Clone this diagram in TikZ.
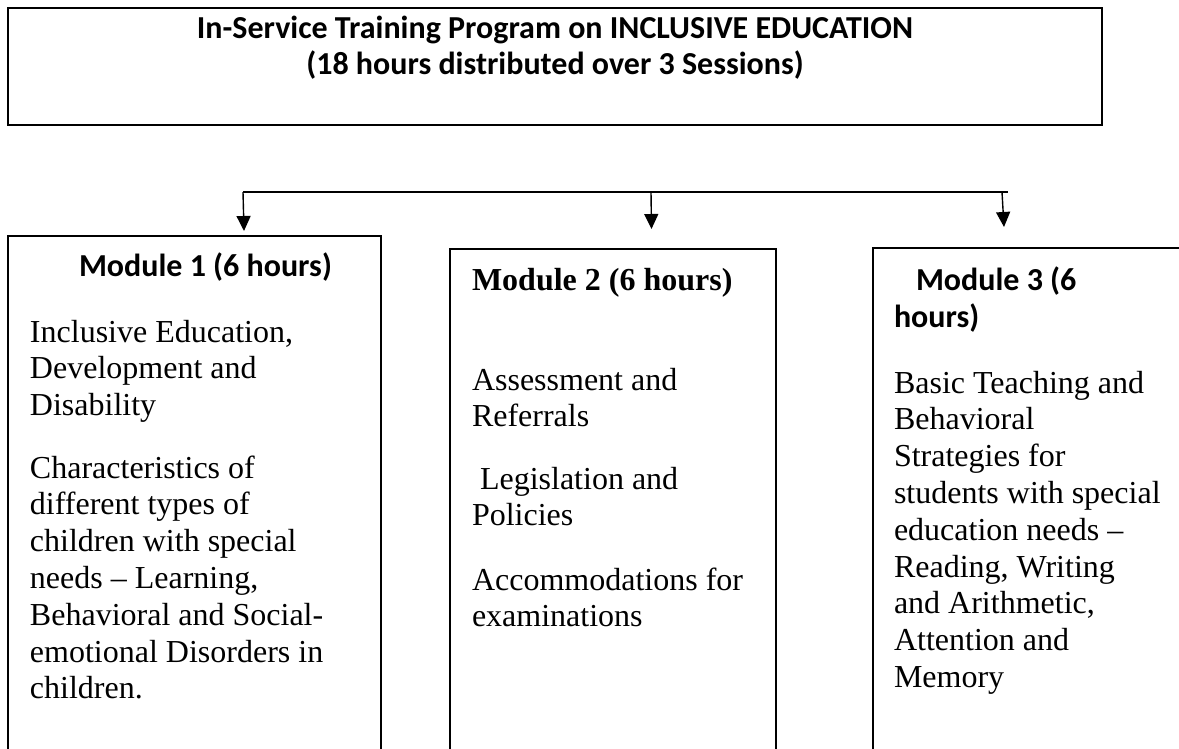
\documentclass[tikz,border=0pt]{standalone}
\usepackage{fontspec}
\setmainfont{Liberation Serif}
\newfontfamily\calibri{Carlito}
\usetikzlibrary{arrows.meta}

\begin{document}
\begin{tikzpicture}[x=1pt, y=-1pt,
  every node/.style={inner sep=0pt, outer sep=0pt},
  bodytext/.style={anchor=base west, align=left, font=\fontsize{32}{36.8}\selectfont},
  headtext/.style={anchor=base west, align=left, font=\calibri\bfseries\fontsize{32}{37}\selectfont},
  modbox/.style={draw, line width=1.6pt, anchor=north west, minimum height=540pt},
  down/.style={-{Triangle[length=15pt, width=14pt]}, line width=1.4pt}]
  \clip (0,0) rectangle (1179,749);
  % Program box (text nodes sit on the baseline of their last line)
  \node[draw, line width=2.6pt, minimum width=1094pt, minimum height=117pt] (prog) at (555,66.5) {};
  \node[anchor=base, align=center, font=\calibri\bfseries\fontsize{32}{36}\selectfont] (progtitle) at (555,75)
    {In-Service Training Program on INCLUSIVE EDUCATION\\(18 hours distributed over 3 Sessions)};
  % Branch line and arrows
  \coordinate (j1) at (243,192);
  \coordinate (j2) at (651,192);
  \coordinate (j3) at (1002,192);
  \coordinate (jend) at (1008,192);
  \draw[line width=2pt] (j1) -- (jend);
  \coordinate (t1) at (244,231);
  \coordinate (t2) at (651.5,229);
  \coordinate (t3) at (1004,227);
  \foreach \i in {1,2,3} {
    \draw[down] (j\i) -- (t\i);
  }
  % Module boxes
  \node[modbox, line width=2.2pt, minimum width=373pt] (mod1) at (8,236) {};
  \node[modbox, minimum width=326pt] (mod2) at (450,249) {};
  \node[modbox, minimum width=340pt] (mod3) at (873,248) {};
  % Module 1
  \node[headtext] (mod1head) at (79,276) {Module 1 (6 hours)};
  \node[bodytext] (mod1a) at (30,415.6) {Inclusive Education,\\Development and\\Disability};
  \node[bodytext] (mod1b) at (30,698.8) {Characteristics of\\different types of\\children with special\\needs -- Learning,\\Behavioral and Social-\\emotional Disorders in\\children.};
  % Module 2
  \node[bodytext, font=\bfseries\fontsize{32}{36.8}\selectfont] (mod2head) at (472,290) {Module 2 (6 hours)};
  \node[bodytext] (mod2a) at (472,426.8) {Assessment and\\Referrals};
  \node[bodytext] (mod2b) at (472,525.8) {\hspace*{8pt}Legislation and\\Policies};
  \node[bodytext] (mod2c) at (472,626.8) {Accommodations for\\examinations};
  % Module 3
  \node[headtext] (mod3head) at (894,327) {\hspace*{22pt}Module 3 (6\\hours)};
  \node[bodytext] (mod3a) at (894,687.4) {Basic Teaching and\\Behavioral\\Strategies for\\students with special\\education needs --\\Reading, Writing\\and Arithmetic,\\Attention and\\Memory};
\end{tikzpicture}
\end{document}
